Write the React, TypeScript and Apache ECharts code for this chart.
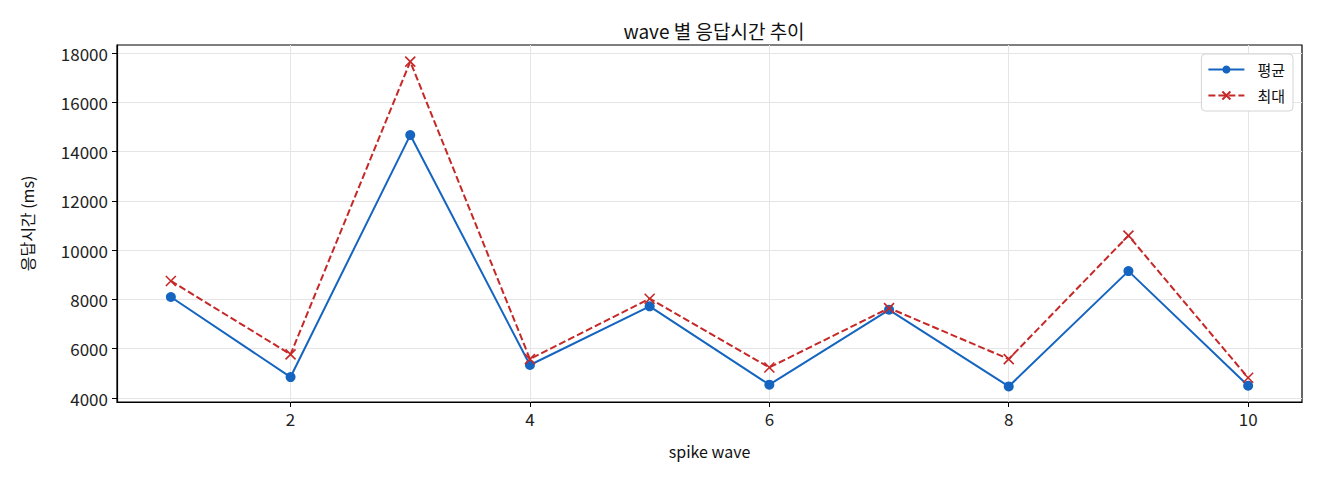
import { useEffect, useRef } from "react";
import * as echarts from "echarts";

// wave 번호
const waves = [1, 2, 3, 4, 5, 6, 7, 8, 9, 10];
// 평균 응답시간 (ms)
const avgMs = [8100, 4850, 14670, 5340, 7720, 4540, 7580, 4470, 9150, 4500];
// 최대 응답시간 (ms)
const maxMs = [8750, 5770, 17650, 5580, 8030, 5240, 7650, 5580, 10590, 4820];
const xTicks = [2, 4, 6, 8, 10];
const yTicks = [4000, 6000, 8000, 10000, 12000, 14000, 16000, 18000];

const FONT = "'Noto Sans CJK KR', 'Noto Sans', sans-serif";

const App = () => {
  const chartRef = useRef<HTMLDivElement>(null);

  useEffect(() => {
    document.body.style.margin = "0";
    const myChart = echarts.init(chartRef.current!, null, { renderer: "svg" });

    const option: echarts.EChartsOption = {
      animation: false,
      backgroundColor: "#fff",
      textStyle: { fontFamily: FONT },
      title: {
        text: "wave 별 응답시간 추이",
        left: 709,
        textAlign: "center",
        top: 16,
        textStyle: { fontSize: 19, fontWeight: "normal", color: "#111" },
      },
      legend: {
        orient: "vertical",
        right: 27,
        top: 54,
        itemWidth: 36,
        itemHeight: 10,
        itemGap: 11,
        padding: [8, 8, 8, 6],
        borderColor: "#d4d4d4",
        borderWidth: 1,
        borderRadius: 4,
        backgroundColor: "#fff",
        textStyle: { fontSize: 15, color: "#111", padding: [0, 0, 0, 8] },
      },
      grid: {
        left: 117,
        right: 18,
        top: 45,
        bottom: 78,
        show: true,
        borderColor: "#000",
        borderWidth: 1.2,
        backgroundColor: "transparent",
      },
      xAxis: {
        type: "value",
        min: 0.55,
        max: 10.45,
        name: "spike wave",
        nameLocation: "middle",
        nameGap: 41,
        nameTextStyle: { fontSize: 16, color: "#111" },
        axisLine: { show: true, lineStyle: { color: "#000", width: 1.2 } },
        axisTick: { show: true, length: 5, customValues: xTicks, lineStyle: { color: "#000" } },
        axisLabel: { customValues: xTicks, fontSize: 17, color: "#222", margin: 8 },
        splitLine: { show: true, lineStyle: { color: "#e5e5e5", width: 1 } },
      },
      yAxis: {
        type: "value",
        min: 3838,
        max: 18325,
        name: "응답시간 (ms)",
        nameLocation: "middle",
        nameGap: 82,
        nameTextStyle: { fontSize: 16, color: "#111" },
        axisLine: { show: true, lineStyle: { color: "#000", width: 1.2 } },
        axisTick: { show: true, length: 5, customValues: yTicks, lineStyle: { color: "#000" } },
        axisLabel: {
          customValues: yTicks,
          fontSize: 17,
          color: "#222",
          margin: 9,
          formatter: (v: number) => String(v),
        },
        splitLine: { show: true, lineStyle: { color: "#e5e5e5", width: 1 } },
      },
      series: [
        {
          name: "평균",
          type: "line",
          data: waves.map((w, i) => [w, avgMs[i]]),
          symbol: "circle",
          symbolSize: 10,
          lineStyle: { color: "#1565C0", width: 2 },
          itemStyle: { color: "#1565C0" },
        },
        {
          name: "최대",
          type: "line",
          data: waves.map((w, i) => [w, maxMs[i]]),
          symbol: "path://M0,0L10,10M10,0L0,10",
          symbolSize: 10,
          lineStyle: { color: "#C62828", width: 2, type: [7, 3] },
          itemStyle: { color: "#C62828", borderColor: "#C62828", borderWidth: 1.6 },
        },
      ],
    };
    myChart.setOption(option);

    const handleResize = () => myChart.resize();
    window.addEventListener("resize", handleResize);

    return () => {
      window.removeEventListener("resize", handleResize);
      myChart.dispose();
    };
  }, []);

  return <div ref={chartRef} style={{ width: "1320px", height: "480px" }} />;
};

export default App;
